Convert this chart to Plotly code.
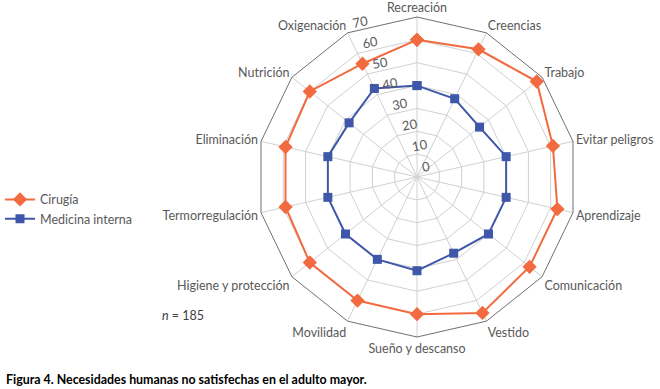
import plotly.graph_objects as go

categories = ["Recreación", "Creencias", "Trabajo", "Evitar peligros", "Aprendizaje",
              "Comunicación", "Vestido", "Sueño y descanso", "Movilidad",
              "Higiene y protección", "Termorregulación", "Eliminación",
              "Nutrición", "Oxigenación"]
cirugia = [60, 62, 67, 61, 63, 63, 66, 60, 60, 60, 59, 59, 60, 55]
medicina = [40, 38, 35, 40, 40, 40, 37, 41, 40, 40, 40, 40, 38, 43]
radial_ticks = [0, 10, 20, 30, 40, 50, 60, 70]
radial_ticktext = [f"{v}<br>&nbsp;" for v in radial_ticks]

ORANGE = "#F26A3F"
BLUE = "#3F57A8"
FONT = "Lato"

fig = go.Figure()
fig.add_trace(go.Scatterpolar(
    r=cirugia + [cirugia[0]], theta=categories + [categories[0]],
    mode="lines+markers", name="Cirugía",
    line=dict(color=ORANGE, width=2),
    marker=dict(symbol="diamond", size=11, color=ORANGE)))
fig.add_trace(go.Scatterpolar(
    r=medicina + [medicina[0]], theta=categories + [categories[0]],
    mode="lines+markers", name="Medicina interna",
    line=dict(color=BLUE, width=2),
    marker=dict(symbol="square", size=9, color=BLUE)))

fig.update_layout(
    width=660, height=389,
    margin=dict(l=0, r=0, t=0, b=0),
    paper_bgcolor="white",
    font=dict(family=FONT, color="#595959", size=12.5),
    polar=dict(
        domain=dict(x=[257/660, 577/660], y=[(389-337)/389, (389-17)/389]),
        bgcolor="white",
        gridshape="linear",
        angularaxis=dict(rotation=90, direction="clockwise",
                         showline=True, linecolor="#6f6f6f", linewidth=1,
                         gridcolor="#d0d0d0", ticks="",
                         tickfont=dict(size=12.5, color="#595959")),
        radialaxis=dict(range=[0, 70], tickvals=radial_ticks, ticktext=radial_ticktext,
                        angle=105, tickangle=105, side="clockwise",
                        showline=False, gridcolor="#d0d0d0", ticks="",
                        tickfont=dict(size=13, color="#595959")),
    ),
    legend=dict(x=0.0, y=0.525, xanchor="left", yanchor="top",
                font=dict(size=12.5, color="#595959"), bgcolor="rgba(0,0,0,0)"),
    showlegend=True,
)

fig.add_annotation(text="<i>n</i> = 185", x=160/660, y=1-315/389,
                   xref="paper", yref="paper", xanchor="left", yanchor="middle",
                   showarrow=False, font=dict(size=12.5, color="#404040"))
fig.add_annotation(text="<b>Figura 4. Necesidades humanas no satisfechas en el adulto mayor.</b>",
                   x=4/660, y=1-379/389, xref="paper", yref="paper",
                   xanchor="left", yanchor="middle", showarrow=False,
                   font=dict(size=12.4, color="#000000"))

fig.write_html("out.html", post_script="document.body.style.margin='0px';",
               config={"displayModeBar": False})
